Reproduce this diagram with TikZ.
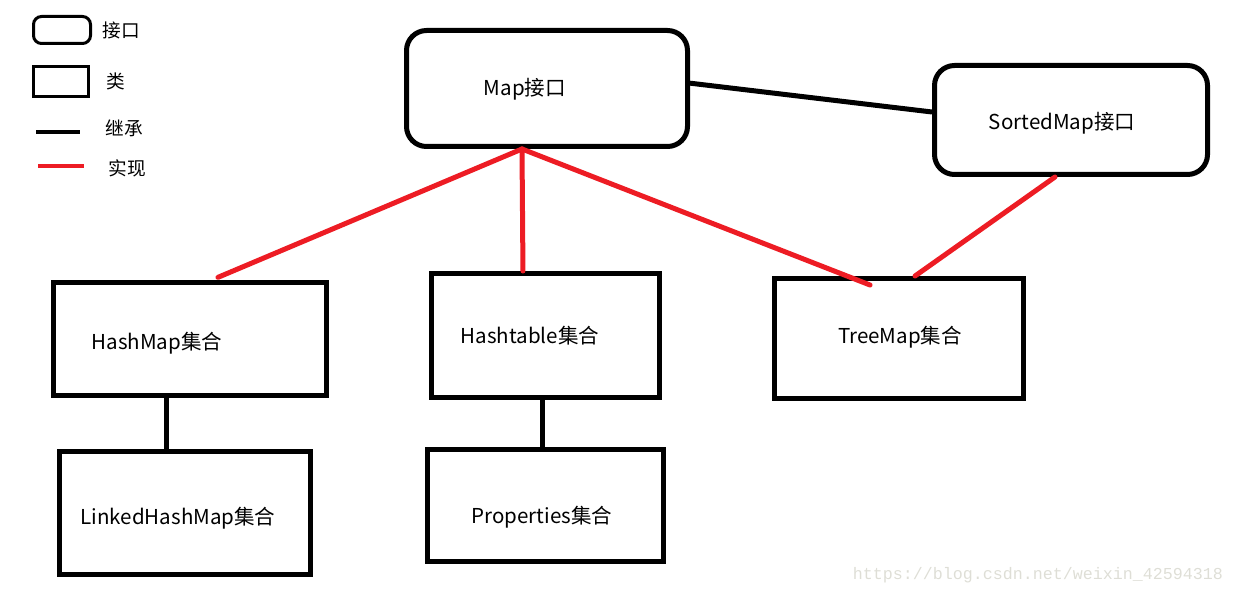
\documentclass[tikz,border=0pt]{standalone}
\usepackage{fontspec}
\setmainfont{Noto Sans CJK SC}
\newfontfamily\markfont{Liberation Mono}
\usetikzlibrary{arrows, positioning}
\definecolor{paintRed}{RGB}{237,28,36}
\definecolor{markGray}{RGB}{222,222,214}

\begin{document}
\begin{tikzpicture}[x=0.75pt, y=-0.75pt]
	\tikzstyle{Iface} = [rectangle, rounded corners=15pt, line width=3.75pt, draw=black, fill=white, inner sep=0pt]
	\tikzstyle{ClassBox} = [rectangle, line width=3.75pt, draw=black, fill=white, inner sep=0pt]
	\tikzstyle{BoxName} = [inner sep=0pt, font=\fontsize{15.4}{18}\selectfont]
	\tikzstyle{KeyName} = [inner sep=0pt, font=\fontsize{14}{17}\selectfont]
	\tikzstyle{inherit} = [line width=3.75pt, draw=black]
	\tikzstyle{realize} = [line width=3.75pt, draw=paintRed, line cap=round]
	
	\useasboundingbox (0,0) rectangle (1234,595);
	
	% legend
	\node (ifaceKey) [Iface, rounded corners=6pt, line width=2.25pt, minimum width=42.75pt, minimum height=20.25pt] at (62,30) {};
	\node (ifaceKeyName) [KeyName, right = 8pt of ifaceKey] {接口};
	
	\node (classKey) [ClassBox, line width=2.25pt, minimum width=41.25pt, minimum height=22.5pt] at (61,81.5) {};
	\node (classKeyName) [KeyName, right = 12pt of classKey] {类};
	
	\draw[inherit, line width=3pt] (36,132) -- (80,132);
	\node (inheritKeyName) [KeyName] at (124,128) {继承};
	
	\draw[realize, line width=3pt, line cap=butt] (38,166) -- (84,166);
	\node (realizeKeyName) [KeyName] at (127,168) {实现};
	
	
	\node (mapIface) [Iface, minimum width=210.75pt, minimum height=87pt] at (547,88.5) {};
	\node (mapIfaceName) [BoxName] at (525,89) {Map接口};
	
	\node (sortedIface) [Iface, minimum width=204.75pt, minimum height=81.75pt] at (1071,120) {};
	\node (sortedIfaceName) [BoxName] at (1062,123) {SortedMap接口};
	
	\node (hashMap) [ClassBox, minimum width=204.75pt, minimum height=84.75pt] at (190,339) {};
	\node (hashMapName) [BoxName] at (157,343) {HashMap集合};
	
	\node (hashtable) [ClassBox, minimum width=171pt, minimum height=93pt] at (545.5,335.5) {};
	\node (hashtableName) [BoxName] at (530,336) {Hashtable集合};
	
	\node (treeMap) [ClassBox, minimum width=186.75pt, minimum height=90pt] at (899,338.5) {};
	\node (treeMapName) [BoxName] at (900,337) {TreeMap集合};
	
	\node (linkedHashMap) [ClassBox, minimum width=188.25pt, minimum height=92.25pt] at (185,513) {};
	\node (linkedHashMapName) [BoxName] at (178,518) {LinkedHashMap集合};
	
	\node (properties) [ClassBox, minimum width=177pt, minimum height=84pt] at (545.5,505.5) {};
	\node (propertiesName) [BoxName] at (542,517) {Properties集合};
	
	\node (blogMark) [inner sep=0pt, text=markGray, font=\markfont\fontsize{12.5}{15}\selectfont] at (1038,575) {https://blog.csdn.net/weixin\_42594318};
	
	
	\draw[inherit] ([yshift=4pt]mapIface.east) -- ([yshift=6pt]sortedIface.west);
	\draw[realize] ([xshift=-18.75pt]mapIface.south) -- ([xshift=21pt, yshift=2pt]hashMap.north);
	\draw[realize] ([xshift=-18.75pt]mapIface.south) -- ([xshift=-16.9pt]hashtable.north);
	\draw[realize] ([xshift=-18.75pt]mapIface.south) -- ([xshift=-21.75pt, yshift=-6.75pt]treeMap.north);
	\draw[realize] ([xshift=-12pt]sortedIface.south) -- ([xshift=12pt]treeMap.north);
	\draw[inherit] ([xshift=-18pt]hashMap.south) -- ([xshift=-14.25pt]linkedHashMap.north);
	\draw[inherit] ([xshift=-2.6pt]hashtable.south) -- ([xshift=-2.6pt]properties.north);
\end{tikzpicture}
\end{document}
